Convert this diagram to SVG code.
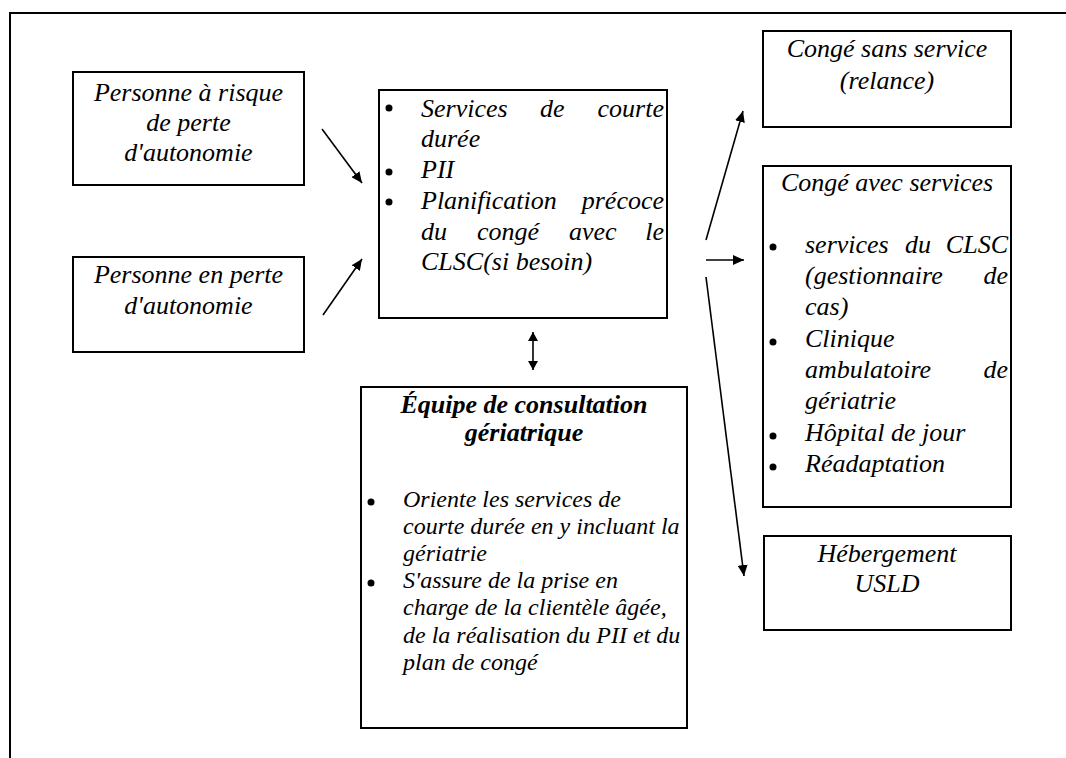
<svg xmlns="http://www.w3.org/2000/svg" width="1066" height="758" viewBox="0 0 1066 758">
<style>
.box{fill:#fff;stroke:#000;stroke-width:2}
.t{font-family:"Liberation Serif","Times New Roman",serif;font-style:italic;font-size:26px;fill:#000}
.s{font-size:24px}
.b{font-weight:bold}
.c{text-anchor:middle}
.e{text-anchor:end}
.ln{stroke:#000;stroke-width:1.6;fill:none}
</style>
<defs>
<marker id="ah" markerUnits="userSpaceOnUse" markerWidth="12" markerHeight="10" refX="11" refY="5" orient="auto">
<path d="M0,0 L11,5 L0,10 z" fill="#000"/>
</marker>
<marker id="ahs" markerUnits="userSpaceOnUse" markerWidth="10" markerHeight="10" refX="9" refY="5" orient="auto">
<path d="M0,0 L9,5 L0,10 z" fill="#000"/>
</marker>
</defs>
<rect width="1066" height="758" fill="#fff"/>
<path d="M10,758 V13 H1066" stroke="#000" stroke-width="2" fill="none"/>

<g id="risque">
<rect class="box" x="73" y="72" width="231" height="113"/>
<text class="t c" x="188.5" y="101">Personne à risque</text>
<text class="t c" x="188.5" y="131">de perte</text>
<text class="t c" x="188.5" y="161">d'autonomie</text>
</g>

<g id="perte">
<rect class="box" x="73" y="257" width="231" height="95"/>
<text class="t c" x="188.5" y="283">Personne en perte</text>
<text class="t c" x="188.5" y="314">d'autonomie</text>
</g>

<g id="courte">
<rect class="box" x="379" y="90" width="288" height="228"/>
<circle cx="389" cy="108" r="3.5"/>
<circle cx="389" cy="172" r="3.5"/>
<circle cx="389" cy="202" r="3.5"/>
<text class="t" x="421" y="117">Services</text>
<text class="t" x="540" y="117">de</text>
<text class="t e" x="664" y="117">courte</text>
<text class="t" x="421" y="147">durée</text>
<text class="t" x="421" y="178">PII</text>
<text class="t" x="421" y="209">Planification</text>
<text class="t e" x="664" y="209">précoce</text>
<text class="t" x="421" y="240">du</text>
<text class="t" x="477" y="240">congé</text>
<text class="t" x="569" y="240">avec</text>
<text class="t e" x="664" y="240">le</text>
<text class="t" x="421" y="270">CLSC(si besoin)</text>
</g>

<g id="equipe">
<rect class="box" x="361" y="387" width="326" height="341"/>
<text class="t b c" x="524" y="413">Équipe de consultation</text>
<text class="t b c" x="524" y="441">gériatrique</text>
<circle cx="371" cy="502" r="3.5"/>
<circle cx="371" cy="583" r="3.5"/>
<text class="t s" x="403" y="507">Oriente les services de</text>
<text class="t s" x="403" y="534">courte durée en y incluant la</text>
<text class="t s" x="403" y="561">gériatrie</text>
<text class="t s" x="403" y="588">S'assure de la prise en</text>
<text class="t s" x="403" y="615">charge de la clientèle âgée,</text>
<text class="t s" x="403" y="643">de la réalisation du PII et du</text>
<text class="t s" x="403" y="670">plan de congé</text>
</g>

<g id="sans">
<rect class="box" x="763" y="31" width="248" height="96"/>
<text class="t c" x="887" y="57">Congé sans service</text>
<text class="t c" x="887" y="89">(relance)</text>
</g>

<g id="avec">
<rect class="box" x="763" y="166" width="248" height="341"/>
<text class="t c" x="887" y="191">Congé avec services</text>
<circle cx="773" cy="247" r="3.5"/>
<circle cx="773" cy="342" r="3.5"/>
<circle cx="773" cy="436" r="3.5"/>
<circle cx="773" cy="467" r="3.5"/>
<text class="t" x="805" y="253">services</text>
<text class="t" x="905" y="253">du</text>
<text class="t e" x="1008" y="253">CLSC</text>
<text class="t" x="805" y="284">(gestionnaire</text>
<text class="t e" x="1008" y="284">de</text>
<text class="t" x="805" y="315">cas)</text>
<text class="t" x="805" y="347">Clinique</text>
<text class="t" x="805" y="378">ambulatoire</text>
<text class="t e" x="1008" y="378">de</text>
<text class="t" x="805" y="409">gériatrie</text>
<text class="t" x="805" y="441">Hôpital de jour</text>
<text class="t" x="805" y="472">Réadaptation</text>
</g>

<g id="usld">
<rect class="box" x="764" y="536" width="247" height="94"/>
<text class="t c" x="887" y="562">Hébergement</text>
<text class="t c" x="887" y="592">USLD</text>
</g>

<g id="connectors">
<line class="ln" x1="322" y1="129" x2="362" y2="183" marker-end="url(#ah)"/>
<line class="ln" x1="323" y1="315" x2="362" y2="259" marker-end="url(#ah)"/>
<line class="ln" x1="533" y1="351" x2="533" y2="332" marker-end="url(#ahs)"/>
<line class="ln" x1="533" y1="351" x2="533" y2="370" marker-end="url(#ahs)"/>
<line class="ln" x1="706" y1="240" x2="743" y2="111" marker-end="url(#ah)"/>
<line class="ln" x1="706" y1="260" x2="744" y2="260" marker-end="url(#ah)"/>
<line class="ln" x1="706" y1="277" x2="744" y2="576" marker-end="url(#ah)"/>
</g>
</svg>
